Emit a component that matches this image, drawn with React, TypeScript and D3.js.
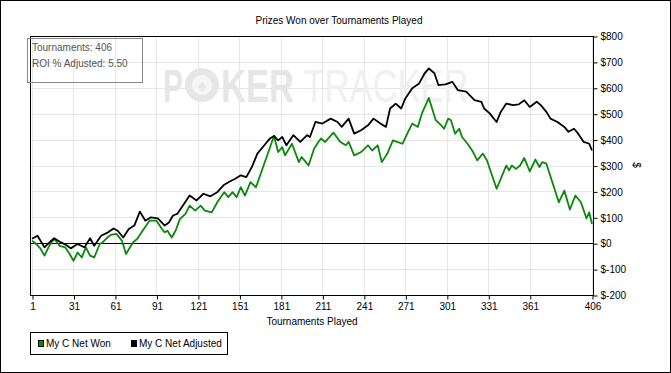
import React, { useEffect, useRef } from 'react';
import * as d3 from 'd3';

// [tournament, $]
const netWon: [number, number][] = [
  [1, 10], [4, -3], [7, -20], [10, -48], [13, -15], [15, 3], [17, 16], [19, 5], [21, -10], [25, -16],
  [28, -40], [31, -68], [34, -36], [37, -55], [40, -16], [43, -48], [46, -55], [50, -3], [52, 3], [55, 19],
  [58, 32], [62, 36], [66, 10], [69, -42], [74, 3], [77, 16], [81, 48], [86, 87], [91, 87], [95, 55],
  [97, 42], [99, 48], [102, 22], [105, 50], [108, 94], [112, 113], [115, 145], [119, 126], [123, 145], [126, 126],
  [131, 119], [135, 158], [140, 197], [143, 178], [146, 197], [149, 178], [152, 216], [155, 184], [159, 236], [163, 216],
  [176, 414], [179, 352], [182, 371], [184, 339], [189, 384], [194, 313], [196, 333], [198, 320], [201, 300], [205, 365],
  [208, 390], [210, 404], [213, 391], [219, 427], [224, 391], [228, 378], [230, 391], [234, 339], [239, 352], [244, 378],
  [247, 358], [251, 378], [254, 313], [258, 346], [262, 397], [265, 391], [269, 384], [273, 430], [276, 462], [280, 449],
  [283, 501], [288, 561], [293, 475], [297, 455], [299, 442], [302, 481], [304, 475], [307, 423], [310, 442], [312, 410],
  [316, 384], [320, 352], [323, 320], [327, 346], [330, 320], [337, 210], [344, 300], [346, 281], [348, 300], [351, 287],
  [354, 300], [357, 329], [361, 277], [365, 323], [368, 294], [370, 313], [373, 307], [382, 158], [386, 203], [390, 130],
  [394, 184], [398, 158], [402, 96], [404, 119], [406, 74],
];

const netAdjusted: [number, number][] = [
  [1, 17], [5, 29], [10, -16], [14, 5], [17, 19], [22, 3], [26, -8], [29, -20], [34, -3], [39, -16],
  [43, 19], [46, -10], [51, 29], [56, 42], [60, 57], [63, 48], [67, 22], [71, 55], [75, 68], [79, 122],
  [83, 87], [87, 100], [92, 96], [97, 68], [100, 80], [103, 107], [106, 113], [111, 152], [115, 184], [120, 165],
  [125, 191], [130, 181], [135, 197], [140, 226], [144, 238], [148, 249], [152, 262], [156, 255], [160, 294], [164, 346],
  [169, 378], [173, 404], [176, 414], [179, 397], [182, 410], [185, 378], [190, 417], [195, 391], [200, 417], [202, 410],
  [206, 468], [211, 462], [217, 481], [222, 468], [225, 449], [230, 481], [234, 423], [239, 436], [244, 455], [248, 481],
  [253, 462], [257, 449], [260, 520], [264, 539], [268, 520], [271, 559], [276, 598], [281, 617], [285, 656], [288, 675],
  [292, 656], [295, 610], [300, 613], [305, 623], [309, 591], [315, 585], [321, 552], [326, 546], [328, 520], [332, 501],
  [334, 488], [337, 468], [340, 507], [344, 539], [349, 533], [353, 536], [357, 552], [361, 526], [366, 546], [369, 533],
  [373, 507], [376, 481], [381, 468], [386, 449], [389, 430], [393, 442], [396, 423], [400, 391], [404, 384], [406, 358],
];

const xTicks = [1, 31, 61, 91, 121, 151, 181, 211, 241, 271, 301, 331, 361, 406];
const yTicks = [800, 700, 600, 500, 400, 300, 200, 100, 0, -100, -200];
const seriesNames = ['My C Net Won', 'My C Net Adjusted'];
const seriesColors = ['#0a880a', '#000000'];

const FONT = '"Liberation Sans", Arial, sans-serif';

const App = () => {
  const svgRef = useRef<SVGSVGElement>(null);

  useEffect(() => {
    document.body.style.margin = '0';
    const svg = d3.select(svgRef.current);
    svg.selectAll('*').remove();

    const left = 30, right = 593, top = 36, bottom = 295;

    const x = d3.scaleLinear().domain([1, 406]).range([32, 592]);
    const y = d3.scaleLinear().domain([-200, 800]).range([bottom, top]);

    svg.append('rect')
      .attr('x', 0.5).attr('y', 0.5).attr('width', 670).attr('height', 372)
      .attr('fill', 'white').attr('stroke', 'black');

    svg.append('text')
      .attr('x', 339).attr('y', 24)
      .attr('text-anchor', 'middle')
      .style('font', `10px ${FONT}`)
      .text('Prizes Won over Tournaments Played');

    const g = svg.append('g');

    // grid
    g.selectAll('.vgrid').data(xTicks).enter().append('line')
      .attr('x1', d => Math.round(x(d)) + 0.5).attr('x2', d => Math.round(x(d)) + 0.5)
      .attr('y1', top).attr('y2', bottom)
      .attr('stroke', '#e6e6e6');
    g.selectAll('.hgrid').data(yTicks).enter().append('line')
      .attr('x1', left).attr('x2', right)
      .attr('y1', d => Math.round(y(d)) + 0.5).attr('y2', d => Math.round(y(d)) + 0.5)
      .attr('stroke', '#e6e6e6');

    // watermark: "P", chip, then KER + TRACKER in one squeezed text
    const wm = g.append('g').style('font-family', FONT);
    wm.append('text').attr('x', 163).attr('y', 102)
      .attr('textLength', 20).attr('lengthAdjust', 'spacingAndGlyphs')
      .style('font-size', '46px').style('font-weight', 'bold').attr('fill', '#e6e6e6').text('P');
    wm.append('circle').attr('cx', 202).attr('cy', 85).attr('r', 17).attr('fill', '#e6e6e6');
    wm.append('circle').attr('cx', 202).attr('cy', 85).attr('r', 10).attr('fill', '#f6f6f6');
    wm.append('text').attr('x', 202).attr('y', 91).attr('text-anchor', 'middle')
      .style('font-size', '16px').attr('fill', '#e6e6e6').text('♠');
    const word = wm.append('text')
      .attr('transform', 'translate(221,102) scale(0.75,1)')
      .style('font-size', '46px');
    word.append('tspan').style('font-weight', 'bold').attr('fill', '#e6e6e6').text('KER');
    word.append('tspan').attr('dx', 13).attr('fill', '#f0f0f0').text('TRACKER');

    // zero line
    g.append('line')
      .attr('x1', left).attr('x2', right)
      .attr('y1', Math.round(y(0)) + 0.5).attr('y2', Math.round(y(0)) + 0.5)
      .attr('stroke', 'black');

    const line = d3.line<[number, number]>()
      .x(d => x(d[0]))
      .y(d => y(d[1]));

    [netWon, netAdjusted].forEach((series, i) => {
      g.append('path')
        .attr('d', line(series))
        .attr('fill', 'none')
        .attr('stroke', seriesColors[i])
        .attr('stroke-width', 1.8)
        .attr('stroke-linejoin', 'round');
    });

    // frame
    svg.append('rect')
      .attr('x', left + 0.5).attr('y', top + 0.5)
      .attr('width', right - left).attr('height', bottom - top)
      .attr('fill', 'none').attr('stroke', 'black');

    // x axis
    const xAxis = svg.append('g')
      .attr('transform', `translate(0.5,${bottom + 0.5})`)
      .call(d3.axisBottom(x).tickValues(xTicks).tickSize(4).tickSizeOuter(0).tickFormat(d3.format('d')));
    xAxis.select('.domain').remove();
    xAxis.selectAll('text').style('font', `10px ${FONT}`).attr('y', 7);

    svg.append('text')
      .attr('x', 312).attr('y', 325)
      .attr('text-anchor', 'middle')
      .style('font', `10px ${FONT}`)
      .text('Tournaments Played');

    // y axis (right)
    const yAxis = svg.append('g')
      .attr('transform', `translate(${right + 0.5},0.5)`)
      .call(d3.axisRight(y).tickValues(yTicks).tickSize(4).tickSizeOuter(0).tickFormat(d => `$${d}`));
    yAxis.select('.domain').remove();
    yAxis.selectAll('text').style('font', `10px ${FONT}`).attr('x', 7);

    svg.append('text')
      .attr('transform', `translate(633,165) rotate(90)`)
      .attr('text-anchor', 'middle')
      .style('font', `10px ${FONT}`)
      .text('$');

    // info box
    svg.append('rect')
      .attr('x', 27.5).attr('y', 38.5).attr('width', 115).attr('height', 44)
      .attr('fill', 'none').attr('stroke', '#888');
    svg.append('text').attr('x', 32).attr('y', 51)
      .style('font', `10px ${FONT}`).attr('fill', '#555').text('Tournaments: 406');
    svg.append('text').attr('x', 32).attr('y', 67)
      .style('font', `10px ${FONT}`).attr('fill', '#555').text('ROI % Adjusted: 5.50');

    // legend
    svg.append('rect')
      .attr('x', 30.5).attr('y', 332.5).attr('width', 197).attr('height', 22)
      .attr('fill', 'white').attr('stroke', 'black');
    const legendX = [38, 131];
    seriesNames.forEach((name, i) => {
      svg.append('rect')
        .attr('x', legendX[i] + 0.5).attr('y', 340.5).attr('width', 5).attr('height', 6)
        .attr('fill', seriesColors[i]).attr('stroke', 'black');
      svg.append('text')
        .attr('x', legendX[i] + 8).attr('y', 347)
        .style('font', `10px ${FONT}`)
        .text(name);
    });
  }, []);

  return <svg ref={svgRef} width={671} height={373} style={{ display: 'block' }} />;
};

export default App;
